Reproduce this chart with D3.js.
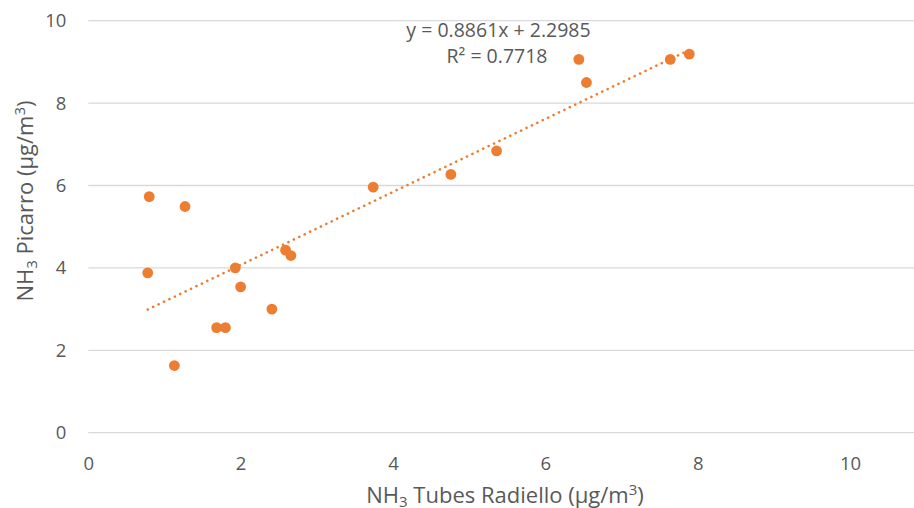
<!DOCTYPE html>
<html>
<head>
<meta charset="utf-8">
<script src="https://cdn.jsdelivr.net/npm/d3@7"></script>
<style>
  body { margin: 0; background: #fff; }
  svg { display: block; font-family: "Open Sans", sans-serif; }
</style>
</head>
<body>
<svg id="chart" width="914" height="508"></svg>
<script>
// NH3 values, tubes (x) vs Picarro (y)
const tubes   = [0.80, 1.27, 0.78, 1.93, 2.00, 2.41, 1.685, 1.80, 1.13, 2.59, 2.66, 3.74, 4.76, 5.36, 6.44, 6.54, 7.64, 7.89]
const picarro = [5.73, 5.49, 3.88, 4.00, 3.54, 3.00, 2.55, 2.55, 1.63, 4.43, 4.30, 5.96, 6.27, 6.84, 9.06, 8.50, 9.06, 9.19]

const xTicks = [0, 2, 4, 6, 8, 10]
const yTicks = [0, 2, 4, 6, 8, 10]

// linear trendline as given by the chart
const slope = 0.8861
const intercept = 2.2985
const eqLabel = 'y = 0.8861x + 2.2985'
const r2Label = 'R² = 0.7718'

const orange = '#ED7D31'
const grey = '#595959'
const gridColor = '#D9D9D9'

const svg = d3.select('#chart')
const width = 914

const x = d3.scaleLinear().domain([0, 10.84]).range([88.3, 914])
const y = d3.scaleLinear().domain([0, 10]).range([432.7, 20.7])

// horizontal grid
svg.append('g')
  .attr('class', 'grid')
  .selectAll('line')
  .data(yTicks)
  .enter().append('line')
  .attr('x1', x(0))
  .attr('x2', width)
  .attr('y1', d => y(d))
  .attr('y2', d => y(d))
  .attr('stroke', gridColor)
  .attr('stroke-width', 1.3)

// axes (labels only)
const yAxis = svg.append('g')
  .attr('transform', `translate(${x(0)},0)`)
  .call(d3.axisLeft(y).tickValues(yTicks).tickSize(0).tickPadding(22))
const xAxis = svg.append('g')
  .attr('transform', `translate(0,${y(0)})`)
  .call(d3.axisBottom(x).tickValues(xTicks).tickSize(0).tickPadding(24))

;[xAxis, yAxis].forEach(function (g) {
  g.select('.domain').remove()
  g.selectAll('text')
    .attr('fill', grey)
    .attr('font-size', 18.5)
    .attr('font-family', '"Open Sans", sans-serif')
})

// trendline between the extreme x values
const xExt = d3.extent(tubes)
svg.append('line')
  .attr('x1', x(xExt[0]))
  .attr('y1', y(slope * xExt[0] + intercept))
  .attr('x2', x(xExt[1]))
  .attr('y2', y(slope * xExt[1] + intercept))
  .attr('stroke', orange)
  .attr('stroke-width', 2.6)
  .attr('stroke-linecap', 'round')
  .attr('stroke-dasharray', '0.1,5.9')

// points
svg.append('g')
  .selectAll('circle')
  .data(tubes)
  .enter().append('circle')
  .attr('cx', d => x(d))
  .attr('cy', (d, i) => y(picarro[i]))
  .attr('r', 5.4)
  .attr('fill', orange)

// equation label
const eq = svg.append('g')
  .attr('fill', grey)
  .attr('font-size', 19.5)
  .attr('text-anchor', 'middle')
eq.append('text').attr('x', 498.5).attr('y', 36.5).text(eqLabel)
eq.append('text').attr('x', 497).attr('y', 62.5).text(r2Label)

// axis titles with sub/superscript
function title(g, before, after) {
  const t = g.append('text')
    .attr('fill', grey)
    .attr('font-size', 22)
    .attr('text-anchor', 'middle')
  t.append('tspan').text('NH')
  t.append('tspan').attr('font-size', 15).attr('dy', 4).text('3')
  t.append('tspan').attr('dy', -4).text(before)
  t.append('tspan').attr('font-size', 15).attr('dy', -8).text('3')
  t.append('tspan').attr('dy', 8).text(after)
  return t
}

title(svg.append('g').attr('transform', 'translate(505,503)'), ' Tubes Radiello (µg/m', ')')
title(svg.append('g').attr('transform', 'translate(33,201) rotate(-90)'), ' Picarro (µg/m', ')')
</script>
</body>
</html>
